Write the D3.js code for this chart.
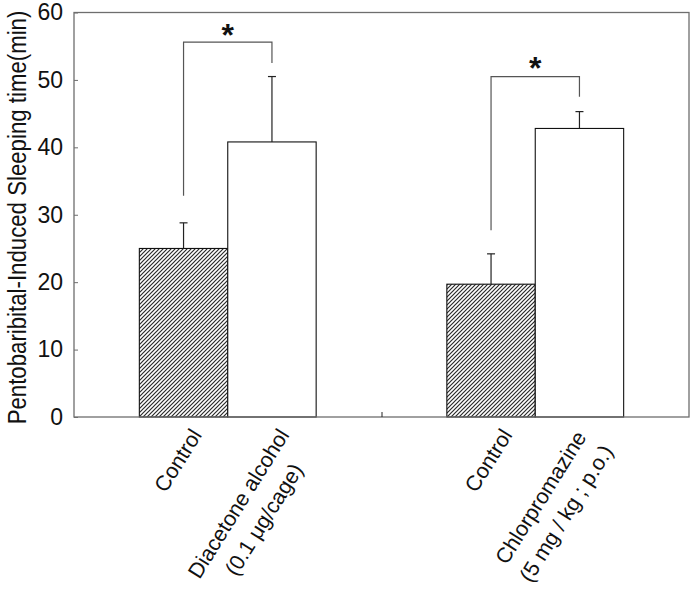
<!DOCTYPE html>
<html>
<head>
<meta charset="utf-8">
<script src="https://cdn.jsdelivr.net/npm/d3@7"></script>
<style>
  html, body { margin: 0; padding: 0; background: #fff; }
  svg { display: block; font-family: "Liberation Sans", Arial, sans-serif; }
</style>
</head>
<body>
<svg id="chart" width="692" height="589"></svg>
<script>
// ---- data ----
const categories = [
  ["Control"],
  ["Diacetone alcohol", "(0.1 μg/cage)"],
  ["Control"],
  ["Chlorpromazine", "(5 mg / kg ; p.o.)"]
];
const means = [25.0, 40.8, 19.7, 42.8];
const errorTops = [28.8, 50.5, 24.2, 45.3];
const groupOf = [0, 0, 1, 1];
const sideOf = [0, 1, 0, 1];          // 0 = left bar (hatched control), 1 = right bar (treatment)
const groupCenters = [1, 3];
const yTicks = [0, 10, 20, 30, 40, 50, 60];
const yTitle = "Pentobaribital-Induced Sleeping time(min)";
// significance brackets: [left bottom, top, right bottom]
const bracketLeft = [32.8, 27.7];
const bracketTop = [55.6, 50.5];
const bracketRight = [52.5, 47.5];
const starY = [57.6, 52.7];
const starText = "*";

// ---- layout ----
const svg = d3.select("#chart");
const x = d3.scaleLinear().domain([0, 4]).range([74, 689]);
const y = d3.scaleLinear().domain([0, 60]).range([417, 12.5]);
const bw = 0.575;
const barX0 = i => groupCenters[groupOf[i]] - (sideOf[i] === 0 ? bw : 0);
const barCenter = i => barX0(i) + bw / 2;
const labelShift = [19, 18, 22, 9];   // px shift of each label's end point from bar centre

// hatch pattern
const defs = svg.append("defs");
const pat = defs.append("pattern")
  .attr("id", "hatch").attr("patternUnits", "userSpaceOnUse")
  .attr("width", 4).attr("height", 4);
pat.append("rect").attr("width", 4).attr("height", 4).attr("fill", "#fff");
pat.append("path").attr("d", "M-1,1 l2,-2 M0,4 l4,-4 M3,5 l2,-2")
  .attr("stroke", "#2a2a2a").attr("stroke-width", 1.2);

// bars
svg.append("g").selectAll("rect").data(means).join("rect")
  .attr("x", (d, i) => x(barX0(i)))
  .attr("width", (d, i) => x(barX0(i) + bw) - x(barX0(i)))
  .attr("y", d => y(d))
  .attr("height", d => y(0) - y(d))
  .attr("fill", (d, i) => sideOf[i] === 0 ? "url(#hatch)" : "#fff")
  .attr("stroke", "#111").attr("stroke-width", 1.1);

// error bars (upper only)
const eg = svg.append("g").attr("stroke", "#222").attr("stroke-width", 1.2);
means.forEach((m, i) => {
  const cx = x(barCenter(i));
  eg.append("line").attr("x1", cx).attr("x2", cx).attr("y1", y(m)).attr("y2", y(errorTops[i]));
  eg.append("line").attr("x1", cx - 4).attr("x2", cx + 4).attr("y1", y(errorTops[i])).attr("y2", y(errorTops[i]));
});

// frame / axes
const frameColor = "#6e6e6e";
svg.append("rect")
  .attr("x", x(0)).attr("y", y(60))
  .attr("width", x(4) - x(0)).attr("height", y(0) - y(60))
  .attr("fill", "none").attr("stroke", frameColor).attr("stroke-width", 1.3);

const yAxis = d3.axisLeft(y).tickValues(yTicks).tickFormat(d3.format("d"))
  .tickSizeInner(-4).tickSizeOuter(0).tickPadding(11);
const ya = svg.append("g").attr("transform", `translate(${x(0)},0)`).call(yAxis);
ya.select(".domain").remove();
ya.selectAll(".tick line").attr("stroke", frameColor);
ya.selectAll(".tick text")
  .attr("font-size", 23).attr("fill", "#111")
  .attr("font-family", "Liberation Sans, Arial, sans-serif");

const xAxis = d3.axisBottom(x).tickValues([2]).tickFormat("").tickSizeInner(-5).tickSizeOuter(0);
const xa = svg.append("g").attr("transform", `translate(0,${y(0)})`).call(xAxis);
xa.select(".domain").remove();
xa.selectAll(".tick line").attr("stroke", "#222");

// y title (horizontally condensed to the reference's length)
const titleG = svg.append("g");
const titleT = titleG.append("text")
  .attr("text-anchor", "middle")
  .attr("font-size", 26)
  .attr("fill", "#111")
  .text(yTitle);
const natural = titleT.node().getComputedTextLength();
titleG.attr("transform", `translate(26,${(10 + 425) / 2}) rotate(-90) scale(${414 / natural},1)`);

// brackets
const bg = svg.append("g").attr("stroke", "#555").attr("stroke-width", 1.2).attr("fill", "none");
groupCenters.forEach((gc, g) => {
  const lx = x(gc - bw / 2), rx = x(gc + bw / 2);
  bg.append("path").attr("d",
    `M${lx},${y(bracketLeft[g])} V${y(bracketTop[g])} H${rx} V${y(bracketRight[g])}`);
  svg.append("text")
    .attr("x", (lx + rx) / 2).attr("y", y(starY[g])).attr("dy", "0.55em")
    .attr("text-anchor", "middle").attr("font-size", 32).attr("font-weight", "bold")
    .attr("fill", "#111").text(starText);
});

// x category labels (rotated, block anchored at end, lines centered)
const angle = -58, lineGap = 30;
categories.forEach((lines, i) => {
  const g = svg.append("g")
    .attr("transform", `translate(${x(barCenter(i)) + labelShift[i]},435) rotate(${angle})`);
  const texts = lines.map((t, k) => g.append("text")
    .attr("font-size", 21.5).attr("fill", "#111").attr("y", k * lineGap).text(t));
  const widths = texts.map(t => t.node().getComputedTextLength());
  const bwid = d3.max(widths);
  texts.forEach(t => t.attr("text-anchor", "middle").attr("x", -bwid / 2));
});
</script>
</body>
</html>
